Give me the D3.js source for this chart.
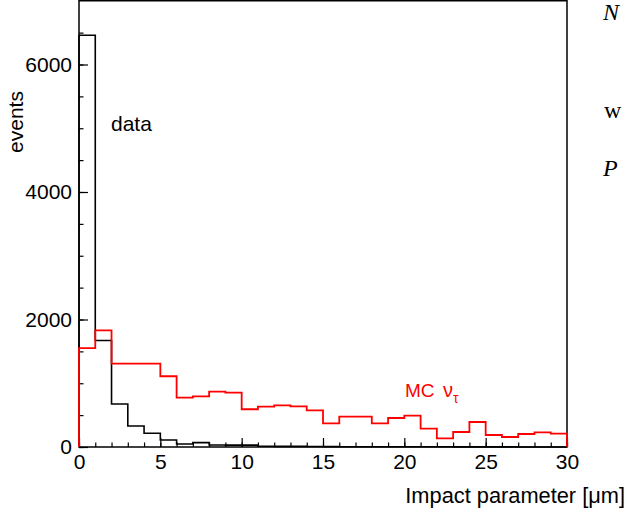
<!DOCTYPE html>
<html>
<head>
<meta charset="utf-8">
<script src="https://cdn.jsdelivr.net/npm/d3@7"></script>
<style>
  body { margin: 0; background: #fff; }
  svg { display: block; }
</style>
</head>
<body>
<svg id="chart" width="627" height="516"></svg>
<script>
// bin edges 0..30 um, one bin per micron
const binEdges = d3.range(0, 31);

// measured data (black)
const dataCounts = [6460, 1670, 675, 330, 215, 110, 47, 68, 32, 30,
  30, 12, 10, 10, 8, 6, 5, 5, 4, 4,
  3, 3, 3, 2, 2, 2, 2, 1, 1, 1];

// MC nu_tau (red)
const mcCounts = [1550, 1830, 1307, 1307, 1307, 1110, 775, 795, 868, 852,
  592, 632, 654, 638, 575, 372, 476, 476, 372, 455,
  491, 287, 136, 235, 392, 188, 157, 204, 230, 209];

const xMajorTicks = [0, 5, 10, 15, 20, 25, 30];
const yMajorTicks = [0, 2000, 4000, 6000];

const svg = d3.select('#chart');
const font = 'Liberation Sans, Arial, Helvetica, sans-serif';

const x = d3.scaleLinear().domain([0, 30]).range([79, 567]);
const y = d3.scaleLinear().domain([0, 7000]).range([447, 0.75]);

// frame
svg.append('rect')
  .attr('x', x(0)).attr('y', y(7000))
  .attr('width', x(30) - x(0)).attr('height', y(0) - y(7000))
  .attr('fill', 'none').attr('stroke', '#000').attr('stroke-width', 1.5);

// x axis: ticks point up inside the frame
const xMinor = svg.append('g').attr('transform', `translate(0,${y(0)})`)
  .call(d3.axisBottom(x).tickValues(d3.range(0, 31)).tickSize(-4.5).tickFormat(''));
const xAxis = svg.append('g').attr('transform', `translate(0,${y(0)})`)
  .call(d3.axisBottom(x).tickValues(xMajorTicks).tickSize(-9).tickPadding(7).tickFormat(d3.format('d')));

const yMinor = svg.append('g').attr('transform', `translate(${x(0)},0)`)
  .call(d3.axisLeft(y).tickValues(d3.range(0, 7000, 500)).tickSize(-4.5).tickFormat(''));
const yAxis = svg.append('g').attr('transform', `translate(${x(0)},0)`)
  .call(d3.axisLeft(y).tickValues(yMajorTicks).tickSize(-9).tickPadding(7).tickFormat(d3.format('d')));

[xMinor, xAxis, yMinor, yAxis].forEach(g => {
  g.select('.domain').remove();
  g.selectAll('line').attr('stroke', '#000').attr('stroke-width', 1.2);
  g.selectAll('text')
    .attr('fill', '#000')
    .style('font-family', font)
    .style('font-size', '21px');
});

// histogram outline as a step line
function histPoints (counts) {
  const pts = [[binEdges[0], 0]];
  counts.forEach((c, i) => pts.push([binEdges[i], c]));
  pts.push([binEdges[binEdges.length - 1], 0]);
  return pts;
}

const stepLine = d3.line()
  .x(d => x(d[0]))
  .y(d => y(d[1]))
  .curve(d3.curveStepAfter);

svg.append('path')
  .attr('d', stepLine(histPoints(dataCounts)))
  .attr('fill', 'none')
  .attr('stroke', '#000')
  .attr('stroke-width', 1.6);

svg.append('path')
  .attr('d', stepLine(histPoints(mcCounts)))
  .attr('fill', 'none')
  .attr('stroke', '#ff0000')
  .attr('stroke-width', 1.8);

// labels
svg.append('text')
  .attr('x', 111).attr('y', 131)
  .style('font-family', font).style('font-size', '21px')
  .text('data');

const mc = svg.append('text')
  .attr('y', 397)
  .attr('fill', '#ff0000')
  .style('font-family', font).style('font-size', '19px');
mc.append('tspan').attr('x', 405).text('MC');
mc.append('tspan').attr('x', 443).style('font-size', '20px').text('ν');
mc.append('tspan').attr('dy', 6).style('font-size', '14px').text('τ');

svg.append('text')
  .attr('transform', 'translate(23,122) rotate(-90)')
  .attr('text-anchor', 'middle')
  .style('font-family', font).style('font-size', '21px')
  .text('events');

svg.append('text')
  .attr('x', 625).attr('y', 503)
  .attr('text-anchor', 'end')
  .style('font-family', font).style('font-size', '21.8px')
  .text('Impact parameter [μm]');

// caption fragments from the page to the right
const serif = 'Liberation Serif, DejaVu Serif, serif';
svg.append('text').attr('x', 603).attr('y', 20)
  .style('font-family', serif).style('font-style', 'italic').style('font-size', '24px')
  .text('N');
svg.append('text').attr('x', 604).attr('y', 118)
  .style('font-family', serif).style('font-size', '24px')
  .text('w');
svg.append('text').attr('x', 603).attr('y', 176)
  .style('font-family', serif).style('font-style', 'italic').style('font-size', '24px')
  .text('P');
</script>
</body>
</html>
